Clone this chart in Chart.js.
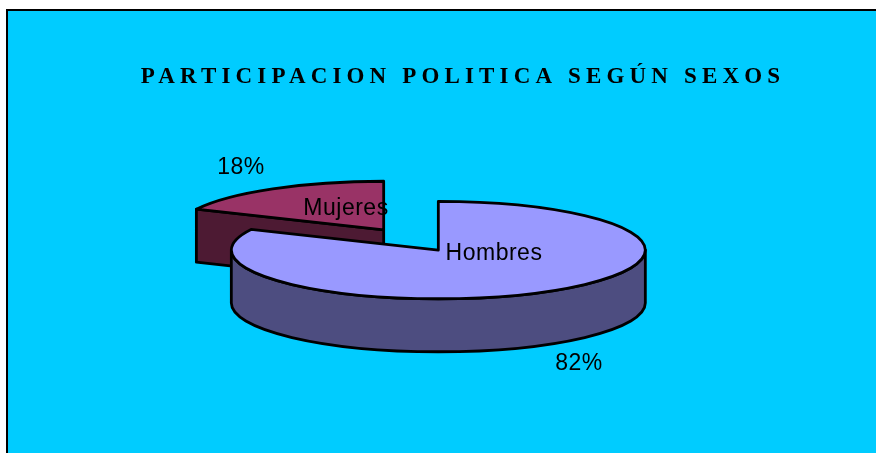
<!DOCTYPE html>
<html>
<head>
<meta charset="utf-8">
<script src="https://cdn.jsdelivr.net/npm/chart.js@4"></script>
<style>
  html, body { margin: 0; padding: 0; background: #fff; overflow: hidden; }
  canvas { display: block; }
</style>
</head>
<body>
<canvas id="participacion" width="876" height="453"></canvas>
<script>
const titleText = "PARTICIPACION POLITICA SEGÚN SEXOS";
const categories = ["Hombres", "Mujeres"];
const values = [82, 18];
const topColors = ["#9999FF", "#993366"];
const sideColors = ["#4D4D80", "#4D1A33"];

// where the pie and its texts sit on the page
const pieX = 411;
const pieY = 240;
const pieRadius = 207;
const squash = 0.235;
const depth = 53;
const explode = 51;
const namePos = [[494, 254], [346, 209]];
const percentPos = [[579, 364], [241, 168]];

function drawPie(chart) {
  const ctx = chart.ctx;
  const arcs = chart.getDatasetMeta(0).data;
  ctx.letterSpacing = "0px";
  ctx.lineWidth = 2.8;
  ctx.lineJoin = "round";
  ctx.strokeStyle = "#000";

  // back slice first so the big one covers it
  for (let i = arcs.length - 1; i >= 0; i--) {
    const arc = arcs[i];
    const a0 = arc.startAngle;
    const a1 = arc.endAngle;
    const mid = (a0 + a1) / 2;
    const r = arc.outerRadius;
    const cx = pieX + Math.cos(mid) * explode;
    const cy = pieY + Math.sin(mid) * explode * squash;
    ctx.fillStyle = sideColors[i];

    // cut faces
    [a0, a1].forEach((a, j) => {
      const facing = j === 0 ? -Math.cos(a) : Math.cos(a);
      if (facing <= 0.001) return;
      const ex = cx + Math.cos(a) * r;
      const ey = cy + Math.sin(a) * r * squash;
      ctx.beginPath();
      ctx.moveTo(cx, cy);
      ctx.lineTo(ex, ey);
      ctx.lineTo(ex, ey + depth);
      ctx.lineTo(cx, cy + depth);
      ctx.closePath();
      ctx.fill();
      ctx.stroke();
    });

    // outer wall, only the front half shows
    const w0 = Math.max(a0, 0);
    const w1 = Math.min(a1, Math.PI);
    if (w1 > w0) {
      ctx.beginPath();
      ctx.ellipse(cx, cy, r, r * squash, 0, w0, w1);
      ctx.ellipse(cx, cy + depth, r, r * squash, 0, w1, w0, true);
      ctx.closePath();
      ctx.fill();
      ctx.stroke();
    }

    // top
    ctx.fillStyle = arc.options.backgroundColor;
    ctx.beginPath();
    ctx.moveTo(cx, cy);
    ctx.ellipse(cx, cy, r, r * squash, 0, a0, a1);
    ctx.closePath();
    ctx.fill();
    ctx.stroke();
  }

  ctx.fillStyle = "#000";
  ctx.font = "23px 'Liberation Sans'";
  ctx.letterSpacing = "0.5px";
  ctx.textAlign = "center";
  ctx.textBaseline = "middle";
  categories.forEach((name, i) => {
    ctx.fillText(name, namePos[i][0], namePos[i][1]);
    ctx.fillText(values[i] + "%", percentPos[i][0], percentPos[i][1]);
  });
  ctx.letterSpacing = "0px";
}

const pie3d = {
  id: "pie3d",
  beforeDraw(chart) {
    const ctx = chart.ctx;
    ctx.save();
    ctx.fillStyle = "#00CCFF";
    ctx.fillRect(7, 10, 869, 443);
    ctx.strokeStyle = "#000";
    ctx.lineWidth = 2;
    ctx.beginPath();
    ctx.moveTo(7, 453);
    ctx.lineTo(7, 10);
    ctx.lineTo(876, 10);
    ctx.stroke();
    ctx.restore();
    // spaced out title, picked up by the title box
    ctx.letterSpacing = "5.15px";
  },
  beforeDatasetsDraw(chart) {
    drawPie(chart);
    return false;
  },
};

new Chart(document.getElementById("participacion"), {
  type: "pie",
  data: {
    labels: categories,
    datasets: [{ data: values, backgroundColor: topColors, borderWidth: 0 }],
  },
  options: {
    responsive: false,
    animation: false,
    radius: pieRadius,
    layout: { padding: { left: 50 } },
    plugins: {
      legend: { display: false },
      tooltip: { enabled: false },
      title: {
        display: true,
        text: titleText,
        color: "#000",
        font: { family: "'Liberation Serif'", size: 23, weight: "bold", lineHeight: 1.2 },
        padding: { top: 63, bottom: 10 },
      },
    },
  },
  plugins: [pie3d],
});
</script>
</body>
</html>
